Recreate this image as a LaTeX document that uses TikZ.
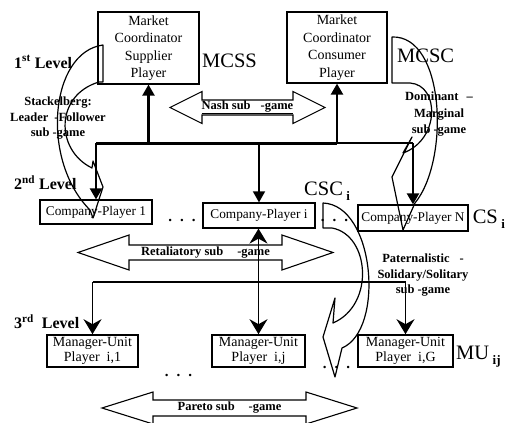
\documentclass[tikz,border=0pt]{standalone}
\usepackage{fontspec}
\setmainfont{Liberation Serif}
\usetikzlibrary{positioning, arrows.meta, calc}

% double-headed sub-game arrow round a text node: node, half length, head length, body half, head half
\newcommand{\gamearrow}[5]{%
  \draw[subarrow] ($(#1)+(-#2,0)$) -- ++(#3,-#5) -- ++(0,#5-#4) -- ++(2*#2-2*#3,0) -- ++(0,#4-#5)
    -- ++(#3,#5) -- ++(-#3,#5) -- ++(0,#4-#5) -- ++(-2*#2+2*#3,0) -- ++(0,#5-#4) -- cycle;}
\newcommand{\lowidx}[1]{\raisebox{-5pt}{\fontsize{13}{13}\selectfont\bfseries #1}}

\begin{document}
\begin{tikzpicture}[
  x=1pt, y=-1pt,
  >={Triangle[length=11pt,width=12pt]},
  every node/.style={font=\fontsize{14}{17.5}\selectfont, inner sep=0pt},
  player/.style   = {draw, line width=1.2pt, align=center, fill=white},
  company/.style  = {player, font=\fontsize{13.3}{15}\selectfont},
  unit/.style     = {player, line width=1.6pt, font=\fontsize{14}{15}\selectfont},
  level/.style    = {font=\fontsize{16}{18}\selectfont\bfseries, anchor=west},
  tag/.style      = {font=\fontsize{20.5}{22}\selectfont, anchor=base west},
  gametxt/.style  = {font=\fontsize{12.5}{15.5}\selectfont\bfseries, align=center},
  subarrow/.style = {line width=1.1pt, line join=miter},
  swoop/.style    = {line width=1.2pt, line join=round},
  bus/.style      = {line width=3pt},
  stem/.style     = {line width=2.2pt},
  twig/.style     = {line width=1.5pt},
  big/.style      = {-{Stealth[length=15pt,width=18pt,inset=5pt]}},
  dots/.style     = {font=\fontsize{15}{15}\selectfont\bfseries, anchor=base},
]
  \useasboundingbox (0,0) rectangle (515,423);

  % 1st level
  \node[player, minimum width=101pt, minimum height=72pt] (mcss) at (148.5,48) {Market\\Coordinator\\Supplier\\Player};
  \node[player, minimum width=100pt, minimum height=71pt] (mcsc) at (337,47.5) {Market\\Coordinator\\Consumer\\Player};
  % 2nd level
  \node[company, minimum width=112pt, minimum height=24pt] (cp1) at (96,212)    {Company-Player 1};
  \node[company, minimum width=112pt, minimum height=25pt] (cpi) at (259,215.5) {Company-Player i};
  \node[company, minimum width=110pt, minimum height=26pt] (cpN) at (413,218)   {Company-Player N};
  % 3rd level
  \node[unit, minimum width=91pt, minimum height=32pt] (mu1) at (92.5,351)  {Manager-Unit\\Player\ \ i,1};
  \node[unit, minimum width=93pt, minimum height=32pt] (muj) at (258.5,351) {Manager-Unit\\Player\ \ i,j};
  \node[unit, minimum width=95pt, minimum height=32pt] (muG) at (405.5,351) {Manager-Unit\\Player\ \ i,G};

  \node[dots] (d1) at (182,221.5)   {.\hspace{8pt}.\hspace{8pt}.};
  \node[dots] (d2) at (334.5,221.5) {.\hspace{8pt}.\hspace{8pt}.};
  \node[dots] (d3) at (178.5,376.5) {.\hspace{8pt}.\hspace{8pt}.};
  \node[dots] (d4) at (336.5,368.5) {.\hspace{8pt}.\hspace{8pt}.};

  \node[level] (lv1) at (14,62)  {1\textsuperscript{st} Level};
  \node[level] (lv2) at (14,183) {2\textsuperscript{nd} Level};
  \node[level] (lv3) at (14,322) {3\textsuperscript{rd}\ \ Level};

  \node[tag] (tmcss) at (202,67)  {MCSS};
  \node[tag] (tmcsc) at (397,62)  {MCSC};
  \node[tag] (tcsc)  at (304,195) {CSC\,\lowidx{i}};
  \node[tag, right=4pt of cpN.east, anchor=base west, yshift=-5pt] (tcs) {CS\,\lowidx{i}};
  \node[tag] (tmu)   at (456,359) {MU\,\lowidx{ij}};

  % upper tree
  \coordinate (bar) at (0,143);
  \draw[bus] (cp1.north |- bar) -- (mcsc.south |- bar);
  \draw[stem] (mcsc.south |- bar) -- (cpN.north |- bar);
  \draw[stem,->] (mcss.south |- bar) -- (mcss.south);
  \draw[stem,->] (mcsc.south |- bar) -- (mcsc.south);
  \draw[stem,->] (cp1.north |- bar) -- (cp1.north);
  \draw[twig,->] (cpi.north |- bar) -- (cpi.north);
  \draw[stem,->] (cpN.north |- bar) -- (cpN.north);

  % lower tree
  \coordinate (tree) at (0,282);
  \draw[twig] (mu1.north |- tree) -- (muG.north |- tree);
  \draw[twig,big] (muj.north |- cpi.south) -- (muj.north);
  \draw[twig,big] (muj.north) -- (muj.north |- cpi.south);
  \draw[twig,big] (mu1.north |- tree) -- (mu1.north);
  \draw[twig,big] (muG.north |- tree) -- (muG.north);

  % sub-games
  \node[gametxt] (nash)   at (247.5,107.5) {\underline{Nash sub\hspace{10pt}-game}};
  \node[gametxt] (retal)  at (205.5,252.5) {Retaliatory sub\hspace{14pt}-game};
  \node[gametxt] (pareto) at (229.5,408)   {Pareto sub\hspace{14pt}-game};
  \gamearrow{nash}{77.5}{32}{7.5}{16}
  \gamearrow{retal}{127.5}{51}{7.5}{17.5}
  \gamearrow{pareto}{127.5}{51}{8}{16}

  \node[gametxt] (stack) at (58,118.5)  {Stackelberg:\\Leader\hspace{6pt}-Follower\\sub\hspace{3pt}-game};
  \node[gametxt, font=\fontsize{12.5}{16.5}\selectfont\bfseries] (domin) at (439,114.5) {Dominant\hspace{8pt}--\\Marginal\\sub\hspace{3pt}-game};
  \node[gametxt] (pater) at (423,275.5) {Paternalistic\hspace{10pt}-\\Solidary/Solitary\\sub\hspace{3pt}-game};

  % curved arrows
  \draw[swoop] (99,82) -- (103,82) -- (103,45) .. controls (50,52) and (40,160) .. (90,210)
    -- (93,218) -- (103,187) -- (93,161) -- (92,168) .. controls (55,150) and (55,95) .. cycle;
  \draw[swoop] (410,83) -- (392,83) -- (392,37) .. controls (445,35) and (450,160) .. (415,203)
    -- (403,230) -- (392,177) -- (412,137) -- (403,153) .. controls (440,140) and (440,85) .. cycle;
  \draw[swoop] (332,228) -- (323,228) -- (323,203) .. controls (375,205) and (385,330) .. (342,348)
    -- (335,377) -- (323,337) -- (335,298) -- (333,323) .. controls (375,305) and (370,235) .. cycle;
\end{tikzpicture}
\end{document}
